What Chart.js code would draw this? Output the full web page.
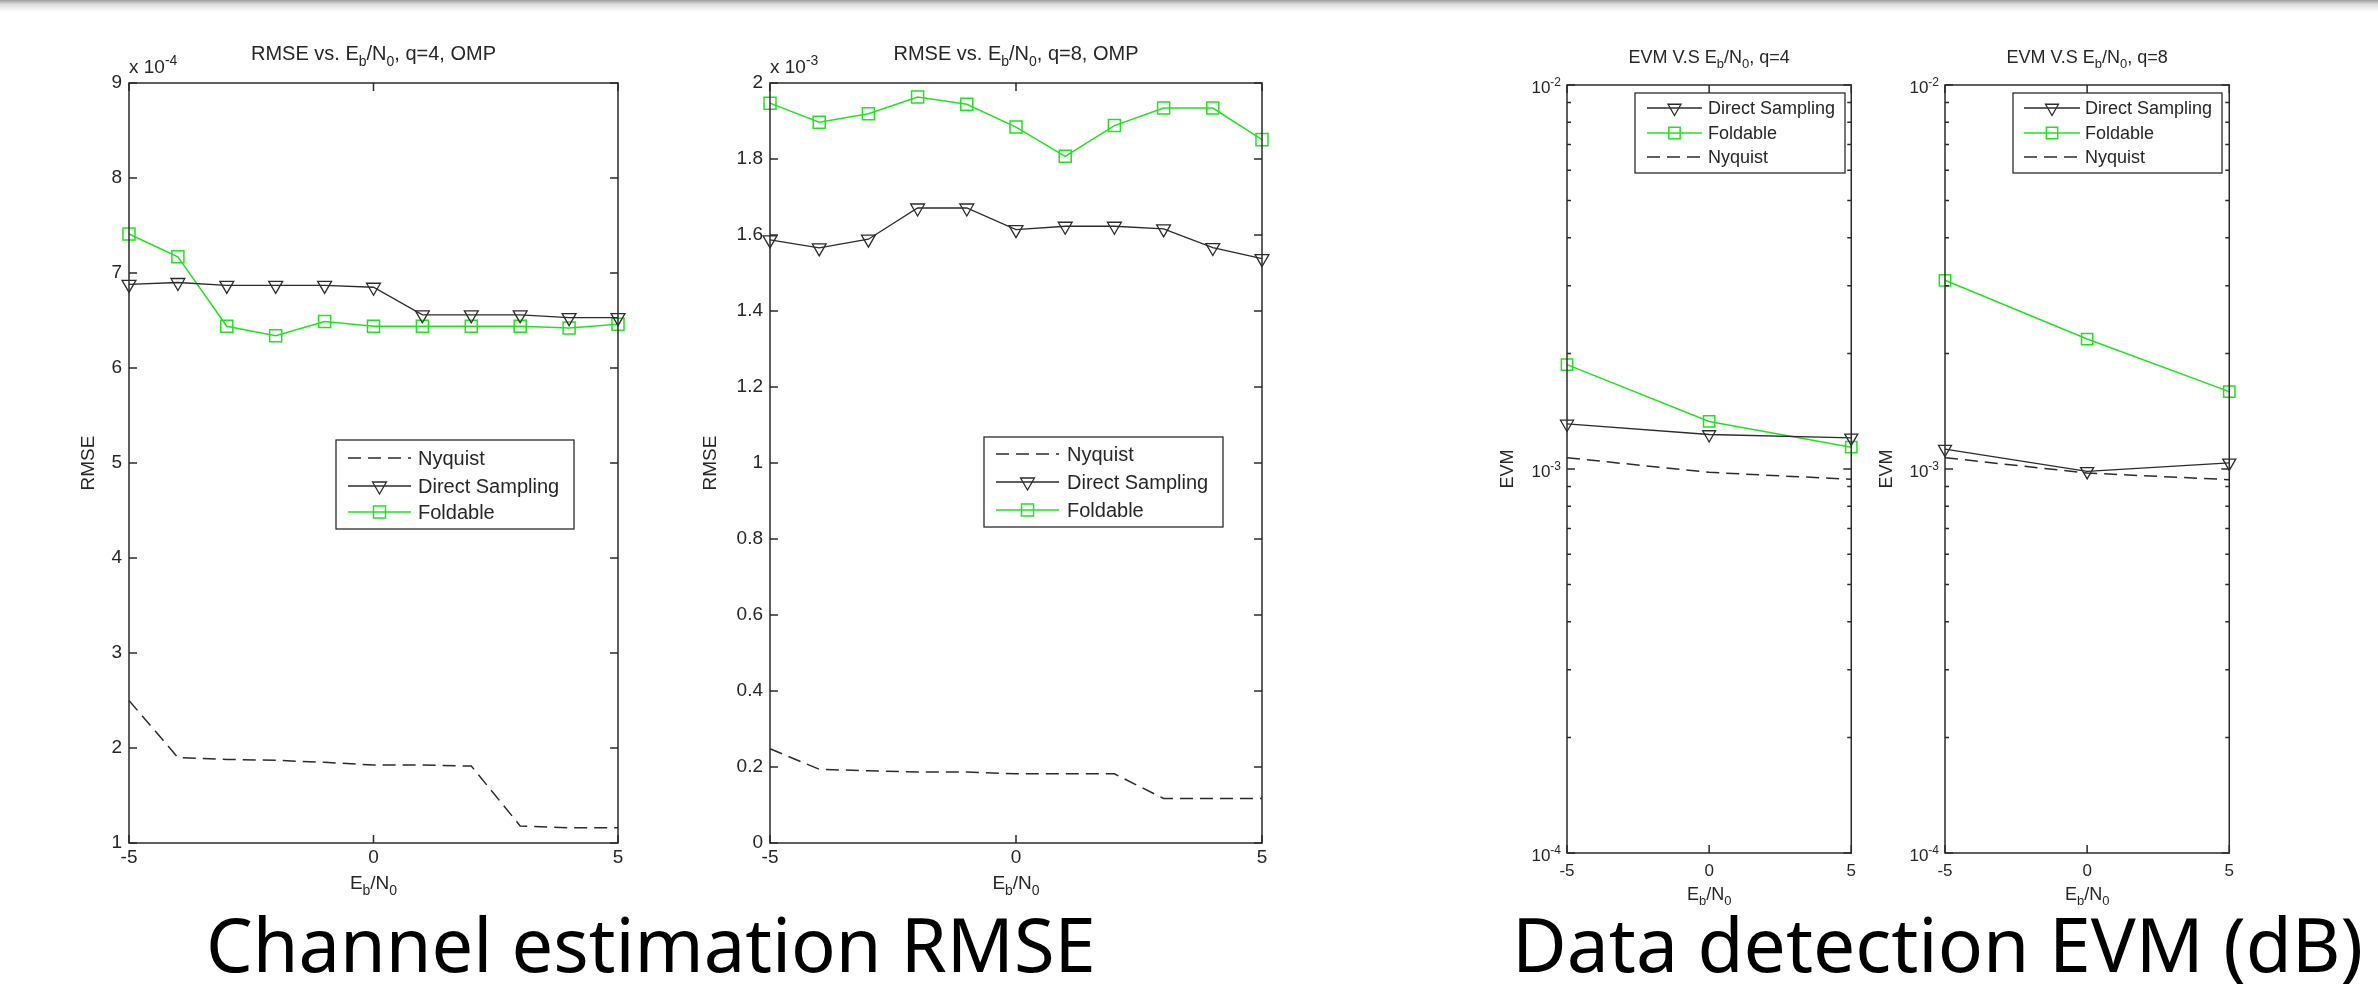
<!DOCTYPE html>
<html>
<head>
<meta charset="utf-8">
<title>RMSE / EVM vs Eb/N0</title>
<script src="https://cdn.jsdelivr.net/npm/chart.js@4.4.1/dist/chart.umd.min.js"></script>
<style>
  html, body { margin: 0; padding: 0; background: #fff; }
  body { width: 2378px; height: 986px; position: relative; overflow: hidden; }
  #topbar { position: absolute; left: 0; top: 0; width: 100%; height: 12px;
            background: linear-gradient(#9c9c9c, #dcdcdc 35%, #fff); }
  canvas { position: absolute; }
  .caption { position: absolute; font-family: "Noto Sans", "Open Sans", sans-serif; font-size: 74px;
             line-height: 1; color: #000; white-space: nowrap; }
</style>
</head>
<body>
<div id="topbar"></div>
<div class="caption" style="left:206px; top:907px;">Channel estimation RMSE</div>
<div class="caption" style="left:1512px; top:906px; font-size:75px;">Data detection EVM (dB)</div>

<script>
// x axis: Eb/N0 in dB
const ebn0 = [-5, -4, -3, -2, -1, 0, 1, 2, 3, 4, 5];
const ebn0Evm = [-5, 0, 5];

// RMSE, q=4 (units of 1e-4)
const rmseQ4Nyquist  = [2.50, 1.90, 1.88, 1.87, 1.85, 1.82, 1.82, 1.81, 1.18, 1.16, 1.16];
const rmseQ4Direct   = [6.88, 6.90, 6.87, 6.87, 6.87, 6.85, 6.56, 6.56, 6.56, 6.53, 6.53];
const rmseQ4Foldable = [7.41, 7.17, 6.44, 6.34, 6.49, 6.44, 6.44, 6.44, 6.44, 6.42, 6.46];

// RMSE, q=8 (units of 1e-3)
const rmseQ8Nyquist  = [0.248, 0.194, 0.190, 0.187, 0.187, 0.182, 0.182, 0.182, 0.117, 0.117, 0.117];
const rmseQ8Direct   = [1.587, 1.566, 1.589, 1.671, 1.671, 1.614, 1.623, 1.623, 1.616, 1.567, 1.538];
const rmseQ8Foldable = [1.947, 1.897, 1.919, 1.963, 1.944, 1.884, 1.807, 1.888, 1.934, 1.934, 1.851];

// EVM (log axis)
const evmQ4Direct   = [1.31e-3, 1.23e-3, 1.205e-3];
const evmQ4Foldable = [1.87e-3, 1.33e-3, 1.14e-3];
const evmQ4Nyquist  = [1.07e-3, 0.98e-3, 0.94e-3];
const evmQ8Direct   = [1.127e-3, 0.986e-3, 1.037e-3];
const evmQ8Foldable = [3.10e-3, 2.18e-3, 1.59e-3];
const evmQ8Nyquist  = [1.07e-3, 0.976e-3, 0.938e-3];

// tick positions
const rmseQ4Ticks = { min: 1, max: 9, step: 1 };
const rmseQ8Ticks = { min: 0, max: 2, step: 0.2 };
const evmDecades = [1e-4, 1e-3, 1e-2];
const evmMantissas = [1, 2, 3, 4, 5, 6, 7, 8, 9];

const FONT = '"Liberation Sans", Arial, Helvetica, sans-serif';
const DARK = '#2b2b2b';
const TXT = '#262626';
const GREEN = '#1ee41e';

Chart.defaults.font.family = FONT;
Chart.defaults.color = TXT;

function richText(ctx, parts, x, y, size, align) {
  const fontFor = k => (k === 'n' ? size : Math.round(size * 0.72)) + 'px ' + FONT;
  const widths = parts.map(([t, k]) => { ctx.font = fontFor(k); return ctx.measureText(t).width; });
  const total = widths.reduce((s, w) => s + w, 0);
  let cx = align === 'center' ? x - total / 2 : (align === 'right' ? x - total : x);
  ctx.textAlign = 'left';
  ctx.textBaseline = 'alphabetic';
  parts.forEach(([t, k], i) => {
    ctx.font = fontFor(k);
    const dy = k === 'sub' ? size * 0.3 : (k === 'sup' ? -size * 0.42 : 0);
    ctx.fillText(t, cx, y + dy);
    cx += widths[i];
  });
}

function marker(ctx, style, r, x, y) {
  ctx.beginPath();
  if (style === 'triangle') {
    ctx.moveTo(x - r * 0.866, y - r / 2);
    ctx.lineTo(x + r * 0.866, y - r / 2);
    ctx.lineTo(x, y + r);
    ctx.closePath();
  } else if (style === 'rect') {
    const s = r * Math.SQRT1_2;
    ctx.rect(x - s, y - s, 2 * s, 2 * s);
  }
  ctx.stroke();
}

const isDecade = v => Math.abs(Math.log10(v) - Math.round(Math.log10(v))) < 1e-6;

const matlabPlugin = {
  id: 'matlab',
  afterDraw(chart, args, o) {
    const ctx = chart.ctx, a = chart.chartArea;
    const xs = chart.scales.x, ys = chart.scales.y;
    ctx.save();
    ctx.strokeStyle = DARK;
    ctx.lineWidth = 1.5;
    ctx.setLineDash([]);
    ctx.strokeRect(a.left, a.top, a.right - a.left, a.bottom - a.top);

    // inward ticks on all four sides
    ctx.beginPath();
    xs.ticks.forEach(t => {
      const p = xs.getPixelForValue(t.value);
      ctx.moveTo(p, a.bottom); ctx.lineTo(p, a.bottom - o.tick);
      ctx.moveTo(p, a.top); ctx.lineTo(p, a.top + o.tick);
    });
    ys.ticks.forEach(t => {
      const p = ys.getPixelForValue(t.value);
      const len = o.log && !isDecade(t.value) ? o.tick / 2 : o.tick;
      ctx.moveTo(a.left, p); ctx.lineTo(a.left + len, p);
      ctx.moveTo(a.right, p); ctx.lineTo(a.right - len, p);
    });
    ctx.stroke();

    ctx.fillStyle = TXT;
    const cx = (a.left + a.right) / 2;
    richText(ctx, o.title, cx, a.top + o.titleDy, o.titleSize, 'center');
    richText(ctx, [['E', 'n'], ['b', 'sub'], ['/N', 'n'], ['0', 'sub']], cx, a.bottom + o.xlabelDy, o.labelSize, 'center');

    if (o.multiplier) {
      richText(ctx, [['x 10', 'n'], [o.multiplier, 'sup']], a.left, a.top - 10, o.labelSize, 'left');
    }

    ctx.save();
    ctx.translate(a.left + o.ylabelDx, (a.top + a.bottom) / 2);
    ctx.rotate(-Math.PI / 2);
    ctx.font = o.labelSize + 'px ' + FONT;
    ctx.textAlign = 'center';
    ctx.textBaseline = 'middle';
    ctx.fillText(o.ylabel, 0, 0);
    ctx.restore();

    if (o.log) {
      evmDecades.forEach(v => {
        const p = ys.getPixelForValue(v);
        richText(ctx, [['10', 'n'], [String(Math.round(Math.log10(v))), 'sup']], a.left - 6, p + 8, o.tickSize, 'right');
      });
    }

    // legend box
    const lg = o.legend;
    const bx = a.left + lg.x, by = a.top + lg.y;
    ctx.fillStyle = '#fff';
    ctx.fillRect(bx, by, lg.w, lg.h);
    ctx.strokeStyle = DARK;
    ctx.lineWidth = 1.3;
    ctx.strokeRect(bx, by, lg.w, lg.h);
    lg.items.forEach((di, k) => {
      const ds = chart.data.datasets[di];
      const ry = a.top + lg.rows[k];
      const x1 = a.left + lg.x1, x2 = a.left + lg.x2;
      ctx.strokeStyle = ds.borderColor;
      ctx.lineWidth = ds.borderWidth;
      ctx.setLineDash(ds.borderDash || []);
      ctx.beginPath(); ctx.moveTo(x1, ry); ctx.lineTo(x2, ry); ctx.stroke();
      ctx.setLineDash([]);
      if (ds.pointRadius > 0) {
        ctx.lineWidth = ds.pointBorderWidth;
        marker(ctx, ds.pointStyle, ds.pointRadius, (x1 + x2) / 2, ry);
      }
      ctx.fillStyle = TXT;
      ctx.font = lg.size + 'px ' + FONT;
      ctx.textAlign = 'left';
      ctx.textBaseline = 'middle';
      ctx.fillText(ds.label, a.left + lg.tx, ry + 1);
    });
    ctx.restore();
  }
};

function series(label, xv, yv, style) {
  return Object.assign({ label, data: xv.map((x, i) => ({ x, y: yv[i] })), tension: 0, fill: false, clip: false }, style);
}
const nyquistStyle = { borderColor: DARK, borderDash: [13, 7], borderWidth: 1.5, pointRadius: 0, pointHoverRadius: 0 };
const directStyle = r => ({ borderColor: DARK, borderWidth: 1.3, pointStyle: 'triangle', pointRotation: 180, pointRadius: r,
  pointBorderColor: DARK, pointBackgroundColor: 'rgba(0,0,0,0)', pointBorderWidth: 1.3 });
const foldStyle = r => ({ borderColor: GREEN, borderWidth: 1.5, pointStyle: 'rect', pointRadius: r,
  pointBorderColor: GREEN, pointBackgroundColor: 'rgba(0,0,0,0)', pointBorderWidth: 1.5 });

function makeChart(p) {
  const cv = document.createElement('canvas');
  const w = (p.R - p.L) + p.padL + p.padR, h = (p.B - p.T) + p.padT + p.padB;
  cv.width = w; cv.height = h;
  cv.style.left = (p.L - p.padL) + 'px';
  cv.style.top = (p.T - p.padT) + 'px';
  cv.style.width = w + 'px'; cv.style.height = h + 'px';
  document.body.appendChild(cv);

  const noGrid = { display: false, drawTicks: false };
  const yScale = p.log ? {
    type: 'logarithmic', min: 1e-4, max: 1e-2,
    afterBuildTicks: s => { s.ticks = []; evmDecades.slice(0, 2).forEach(d => evmMantissas.forEach(m => s.ticks.push({ value: d * m }))); s.ticks.push({ value: 1e-2 }); },
    ticks: { display: false },
    grid: noGrid, border: { display: false },
    afterFit: s => { s.width = p.padL; }
  } : {
    type: 'linear', min: p.yTicks.min, max: p.yTicks.max,
    ticks: { stepSize: p.yTicks.step, padding: 7, font: { size: p.tickSize }, color: TXT,
             callback: v => String(+v.toFixed(2)) },
    grid: noGrid, border: { display: false },
    afterFit: s => { s.width = p.padL; }
  };

  return new Chart(cv, {
    type: 'line',
    data: { datasets: p.datasets },
    options: {
      responsive: false, maintainAspectRatio: false, animation: false, devicePixelRatio: 1,
      layout: { padding: { top: p.padT, right: p.padR, left: 0, bottom: 0 } },
      scales: {
        x: {
          type: 'linear', min: -5, max: 5,
          ticks: { stepSize: 5, padding: p.xPad, font: { size: p.tickSize }, color: TXT, maxRotation: 0 },
          grid: noGrid, border: { display: false },
          afterFit: s => { s.height = p.padB; }
        },
        y: yScale
      },
      plugins: {
        legend: { display: false },
        tooltip: { enabled: false },
        matlab: {
          title: p.title, titleDy: p.titleDy, titleSize: p.titleSize, labelSize: p.labelSize, tickSize: p.tickSize,
          xlabelDy: p.xlabelDy, ylabel: p.ylabel, ylabelDx: p.ylabelDx, multiplier: p.multiplier,
          log: !!p.log, tick: 8, legend: p.legend
        }
      }
    },
    plugins: [matlabPlugin]
  });
}

makeChart({
  L: 129, T: 83, R: 618, B: 843, padL: 110, padR: 25, padT: 75, padB: 70,
  yTicks: rmseQ4Ticks, tickSize: 19, xPad: 3, titleSize: 20, labelSize: 19,
  title: [['RMSE vs. E', 'n'], ['b', 'sub'], ['/N', 'n'], ['0', 'sub'], [', q=4, OMP', 'n']],
  titleDy: -23, xlabelDy: 46, ylabel: 'RMSE', ylabelDx: -40, multiplier: '-4',
  datasets: [
    series('Nyquist', ebn0, rmseQ4Nyquist, nyquistStyle),
    series('Direct Sampling', ebn0, rmseQ4Direct, directStyle(8)),
    series('Foldable', ebn0, rmseQ4Foldable, foldStyle(8.5))
  ],
  legend: { x: 207, y: 357, w: 238, h: 89, rows: [375, 403, 429], x1: 219, x2: 282, tx: 289, size: 20, items: [0, 1, 2] }
});

makeChart({
  L: 770, T: 83, R: 1262, B: 843, padL: 110, padR: 25, padT: 75, padB: 70,
  yTicks: rmseQ8Ticks, tickSize: 19, xPad: 3, titleSize: 20, labelSize: 19,
  title: [['RMSE vs. E', 'n'], ['b', 'sub'], ['/N', 'n'], ['0', 'sub'], [', q=8, OMP', 'n']],
  titleDy: -23, xlabelDy: 46, ylabel: 'RMSE', ylabelDx: -59, multiplier: '-3',
  datasets: [
    series('Nyquist', ebn0, rmseQ8Nyquist, nyquistStyle),
    series('Direct Sampling', ebn0, rmseQ8Direct, directStyle(8)),
    series('Foldable', ebn0, rmseQ8Foldable, foldStyle(8.5))
  ],
  legend: { x: 214, y: 354, w: 239, h: 90, rows: [371, 399, 427], x1: 226, x2: 289, tx: 297, size: 20, items: [0, 1, 2] }
});

makeChart({
  L: 1567, T: 85, R: 1854, B: 853, padL: 80, padR: 10, padT: 77, padB: 70, log: true,
  tickSize: 17, xPad: 8, titleSize: 18, labelSize: 18,
  title: [['EVM V.S E', 'n'], ['b', 'sub'], ['/N', 'n'], ['0', 'sub'], [', q=4', 'n']],
  titleDy: -22, xlabelDy: 47, ylabel: 'EVM', ylabelDx: -59,
  datasets: [
    series('Direct Sampling', ebn0Evm, evmQ4Direct, directStyle(7.5)),
    series('Foldable', ebn0Evm, evmQ4Foldable, foldStyle(8)),
    series('Nyquist', ebn0Evm, evmQ4Nyquist, nyquistStyle)
  ],
  legend: { x: 68, y: 8, w: 210, h: 80, rows: [23, 48, 72], x1: 80, x2: 135, tx: 141, size: 18, items: [0, 1, 2] }
});

makeChart({
  L: 1945, T: 85, R: 2232, B: 853, padL: 80, padR: 10, padT: 77, padB: 70, log: true,
  tickSize: 17, xPad: 8, titleSize: 18, labelSize: 18,
  title: [['EVM V.S E', 'n'], ['b', 'sub'], ['/N', 'n'], ['0', 'sub'], [', q=8', 'n']],
  titleDy: -22, xlabelDy: 47, ylabel: 'EVM', ylabelDx: -58,
  datasets: [
    series('Direct Sampling', ebn0Evm, evmQ8Direct, directStyle(7.5)),
    series('Foldable', ebn0Evm, evmQ8Foldable, foldStyle(8)),
    series('Nyquist', ebn0Evm, evmQ8Nyquist, nyquistStyle)
  ],
  legend: { x: 68, y: 8, w: 209, h: 80, rows: [23, 48, 72], x1: 79, x2: 135, tx: 140, size: 18, items: [0, 1, 2] }
});
</script>
</body>
</html>
